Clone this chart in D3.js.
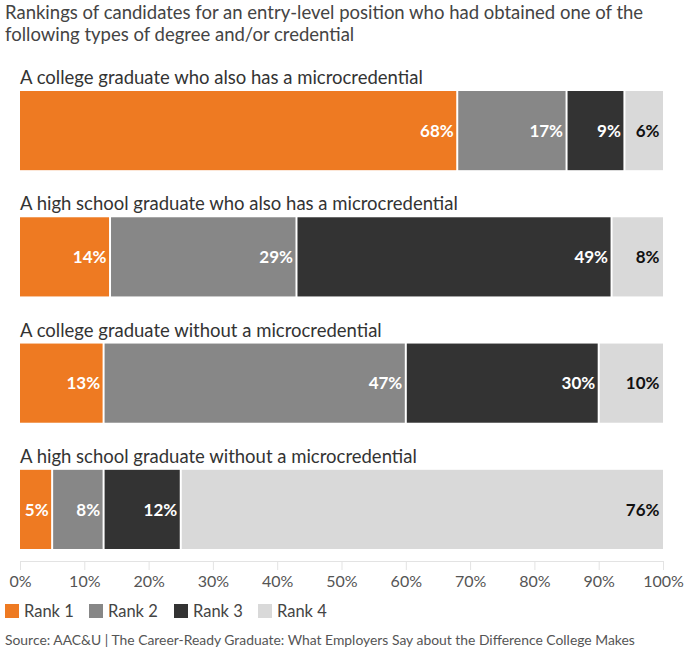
<!DOCTYPE html>
<html>
<head>
<meta charset="utf-8">
<script src="https://cdn.jsdelivr.net/npm/d3@7"></script>
<style>
  html, body { margin: 0; padding: 0; background: #fff; }
  svg { display: block; font-family: Lato, "Noto Sans", sans-serif; }
</style>
</head>
<body>
<svg id="chart" width="696" height="660"></svg>
<script>
const titleLines = [
  "Rankings of candidates for an entry-level position who had obtained one of the",
  "following types of degree and/or credential"
];
const categories = [
  "A college graduate who also has a microcredential",
  "A high school graduate who also has a microcredential",
  "A college graduate without a microcredential",
  "A high school graduate without a microcredential"
];
const seriesNames = ["Rank 1", "Rank 2", "Rank 3", "Rank 4"];
const rank1 = [68, 14, 13, 5];
const rank2 = [17, 29, 47, 8];
const rank3 = [9, 49, 30, 12];
const rank4 = [6, 8, 10, 76];
const colors = ["#EE7A22", "#878787", "#333333", "#D9D9D9"];
const labelColors = ["#ffffff", "#ffffff", "#ffffff", "#111111"];
const tickValues = [0, 10, 20, 30, 40, 50, 60, 70, 80, 90, 100];
const source = "Source: AAC&U | The Career-Ready Graduate: What Employers Say about the Difference College Makes";

const series = [rank1, rank2, rank3, rank4];
const rows = categories.map((c, i) => {
  const vals = series.map(s => s[i]);
  let acc = 0;
  return { name: c, segs: vals.map((v, j) => { const s = { v, j, x0: acc, x1: acc + v }; acc += v; return s; }) };
});

const svg = d3.select("#chart");
const x = d3.scaleLinear().domain([0, 100]).range([20, 663]).clamp(true);
const y = d3.scaleBand().domain(categories).range([91, 549]).paddingInner(0.373).paddingOuter(0);

// Title
svg.append("g").selectAll("text").data(titleLines).join("text")
  .attr("x", 5).attr("y", (d, i) => 19 + i * 22)
  .attr("fill", "#444").attr("font-size", 18.5)
  .text(d => d);

const rowG = svg.append("g").selectAll("g").data(rows).join("g")
  .attr("transform", d => `translate(0,${y(d.name)})`);

rowG.append("text")
  .attr("x", 20).attr("y", -7)
  .attr("fill", "#333").attr("font-size", 18.5)
  .text(d => d.name);

const segG = rowG.selectAll("g.seg").data(d => d.segs).join("g").attr("class", "seg");
segG.append("rect")
  .attr("x", d => x(d.x0) + (d.j > 0 ? 1 : 0))
  .attr("y", 0)
  .attr("width", d => x(d.x1) - x(d.x0) - (d.j > 0 ? 1 : 0) - (d.j < 3 ? 1 : 0))
  .attr("height", y.bandwidth())
  .attr("fill", d => colors[d.j]);
segG.append("text")
  .attr("x", d => x(d.x1) - 3.5)
  .attr("y", y.bandwidth() / 2)
  .attr("dy", "0.36em")
  .attr("text-anchor", "end")
  .attr("font-weight", 700)
  .attr("font-size", 17)
  .attr("fill", d => labelColors[d.j])
  .text(d => d.v + "%");

// Axis
const axis = d3.axisBottom(x).tickValues(tickValues).tickFormat(d => d + "%").tickSize(9).tickPadding(6);
const ax = svg.append("g").attr("transform", "translate(0,561)").call(axis);
ax.select(".domain").attr("stroke", "#e3e3e3");
ax.selectAll(".tick line").attr("stroke", "#e3e3e3");
ax.selectAll(".tick text").attr("fill", "#555").attr("font-size", 16).attr("font-family", "Lato, 'Noto Sans', sans-serif");

// Legend
const legendX = [5, 89, 174, 258];
const lg = svg.append("g").selectAll("g").data(seriesNames).join("g")
  .attr("transform", (d, i) => `translate(${legendX[i]},604)`);
lg.append("rect").attr("width", 14).attr("height", 14).attr("fill", (d, i) => colors[i]);
lg.append("text").attr("x", 19).attr("y", 13).attr("font-size", 16.5).attr("fill", "#444").text(d => d);

// Source
svg.append("text").attr("x", 5).attr("y", 645).attr("font-size", 13.9).attr("fill", "#555").text(source);
</script>
</body>
</html>
